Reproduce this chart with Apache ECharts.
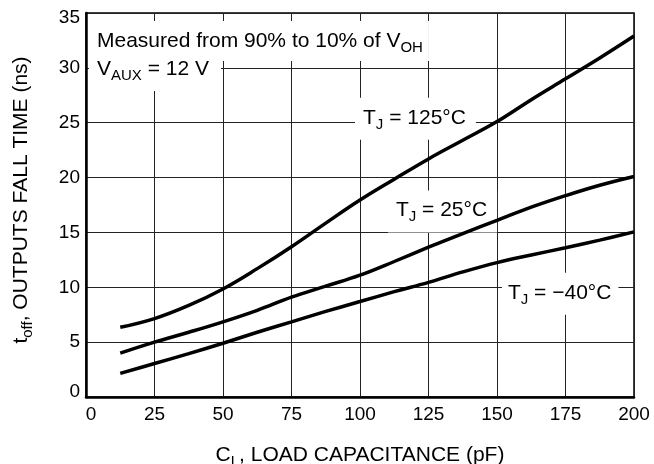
<!DOCTYPE html>
<html>
<head>
<meta charset="utf-8">
<script src="https://cdn.jsdelivr.net/npm/echarts@6/dist/echarts.min.js"></script>
<style>
  html, body { margin: 0; padding: 0; background: #fff; }
  #chart { width: 654px; height: 464px; }
</style>
</head>
<body>
<div id="chart"></div>
<script>
const capacitance = [12.5, 25, 37.5, 50, 62.5, 75, 87.5, 100, 112.5, 125, 137.5, 150, 162.5, 175, 187.5, 200];
const tj125 = [6.35, 7.15, 8.35, 9.85, 11.7, 13.7, 15.85, 17.95, 19.85, 21.7, 23.4, 25.1, 27.1, 29.0, 30.9, 32.9];
const tj25  = [4.0, 5.0, 5.9, 6.85, 7.9, 9.1, 10.1, 11.1, 12.35, 13.65, 14.9, 16.1, 17.3, 18.35, 19.3, 20.1];
const tjm40 = [2.15, 3.05, 3.95, 4.9, 5.9, 6.85, 7.8, 8.7, 9.6, 10.45, 11.4, 12.25, 12.95, 13.6, 14.3, 15.05];
const xTicks = [0, 25, 50, 75, 100, 125, 150, 175, 200];
const yTicks = [0, 5, 10, 15, 20, 25, 30, 35];

const FONT = '"Liberation Sans", Arial, Helvetica, sans-serif';
const pairs = (ys) => capacitance.map((x, i) => [x, ys[i]]);

const chart = echarts.init(document.getElementById('chart'), null, { renderer: 'canvas' });

const lineSeries = (name, ys) => ({
  name, type: 'line', data: pairs(ys), smooth: 0.4, showSymbol: false, symbol: 'none',
  lineStyle: { color: '#000', width: 3.5 }, z: 3, silent: true
});

const subRich = (size) => ({
  n: { fontSize: size, fontFamily: FONT, color: '#000' },
  s: { fontSize: Math.round(size * 0.72), fontFamily: FONT, color: '#000', padding: [Math.round(size * 0.6), 0, 0, 0] }
});

chart.setOption({
  animation: false,
  backgroundColor: '#fff',
  grid: {
    left: 86, right: 20, top: 13, bottom: 67, containLabel: false, outerBoundsMode: 'none',
    show: true, borderColor: '#000', borderWidth: 1.5, backgroundColor: 'transparent'
  },
  xAxis: {
    type: 'value', min: 0, max: 200, interval: 25,
    name: '{n|C}{s|L}{n|, LOAD CAPACITANCE (pF)}',
    nameLocation: 'middle', nameGap: 44,
    nameTextStyle: { rich: subRich(21) },
    axisLine: { show: true, lineStyle: { color: '#000', width: 2.5 } },
    axisTick: { show: false },
    splitLine: { show: true, lineStyle: { color: '#222', width: 1 } },
    axisLabel: {
      margin: 8, color: '#000', fontSize: 19, fontFamily: FONT,
      formatter: (v) => xTicks.indexOf(v) === 0 ? '{f|' + v + '}' : String(v),
      rich: { f: { fontSize: 19, fontFamily: FONT, color: '#000', padding: [0, 0, 0, 10] } }
    }
  },
  yAxis: {
    type: 'value', min: 0, max: 35, interval: 5,
    name: '{n|t}{s|off}{n|, OUTPUTS FALL TIME (ns)}',
    nameLocation: 'middle', nameGap: 51,
    nameTextStyle: { rich: subRich(21), padding: [0, 0, 0, 10] },
    axisLine: { show: true, lineStyle: { color: '#000', width: 2.5 } },
    axisTick: { show: false },
    splitLine: { show: true, lineStyle: { color: '#222', width: 1 } },
    axisLabel: {
      margin: 6, color: '#000', fontSize: 19, fontFamily: FONT,
      formatter: (v) => {
        if (v === yTicks[yTicks.length - 1]) return '{t|' + v + '}';
        if (v === yTicks[0]) return '{b|' + v + '}';
        return String(v);
      },
      rich: {
        t: { fontSize: 19, fontFamily: FONT, color: '#000', padding: [10, 0, 0, 0] },
        b: { fontSize: 19, fontFamily: FONT, color: '#000', padding: [0, 0, 10, 0] }
      }
    }
  },
  series: [
    lineSeries('TJ = 125°C', tj125),
    lineSeries('TJ = 25°C', tj25),
    lineSeries('TJ = -40°C', tjm40)
  ]
});

const annotations = [
  { text: '{n|Measured from 90% to 10% of V}{s|OH}', at: [4, 32.45], pad: [6, 6, 6, 8] },
  { text: '{n|V}{s|AUX}{n| = 12 V}', at: [4, 29.75], pad: [5, 12, 8, 8] },
  { text: '{n|T}{s|J}{n| = 125°C}', at: [101.1, 25.35], pad: [6, 10, 8, 8] },
  { text: '{n|T}{s|J}{n| = 25°C}', at: [113.1, 16.9], pad: [6, 10, 8, 8] },
  { text: '{n|T}{s|J}{n| = \u221240°C}', at: [154, 9.4], pad: [6, 7, 8, 6] }
];

chart.setOption({
  graphic: annotations.map((a) => {
    const p = chart.convertToPixel({ gridIndex: 0 }, a.at);
    return {
      type: 'text', z: 1, silent: true,
      x: p[0] - a.pad[3], y: p[1],
      style: {
        text: a.text, rich: subRich(21),
        align: 'left', verticalAlign: 'middle',
        backgroundColor: '#fff', padding: a.pad
      }
    };
  })
});
</script>
</body>
</html>
